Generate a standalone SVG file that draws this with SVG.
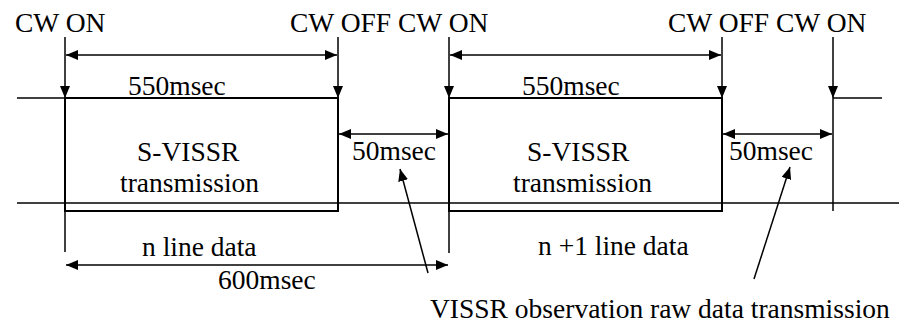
<svg xmlns="http://www.w3.org/2000/svg" width="899" height="324" viewBox="0 0 899 324">
<style>
  .ln { stroke: #000; stroke-width: 1.5; fill: none; }
  .box { stroke: #000; stroke-width: 2; fill: none; }
  text { font-family: 'Liberation Serif', 'Times New Roman', Tinos, 'DejaVu Serif', serif; font-size: 27.5px; fill: #000; }
</style>
<defs>
  <marker id="ah" markerUnits="userSpaceOnUse" markerWidth="13" markerHeight="11" refX="12" refY="5" orient="auto-start-reverse">
    <path d="M0,0 L12,5 L0,10 z" fill="#000"/>
  </marker>
</defs>
<rect width="899" height="324" fill="#fff"/>
<g id="signal">
  <line class="ln" x1="17" y1="98" x2="65" y2="98"/>
  <rect id="box1" class="box" x="65" y="98" width="273" height="113"/>
  <rect id="box2" class="box" x="449" y="98" width="273" height="113"/>
  <line class="ln" x1="833" y1="98" x2="882" y2="98"/>
  <line class="ln" x1="17" y1="203" x2="899" y2="203"/>
</g>
<g id="ticks">
  <line class="ln" x1="65" y1="37" x2="65" y2="98" marker-end="url(#ah)"/>
  <line class="ln" x1="65" y1="98" x2="65" y2="252"/>
  <line class="ln" x1="338" y1="37" x2="338" y2="98" marker-end="url(#ah)"/>
  <line class="ln" x1="449" y1="37" x2="449" y2="98" marker-end="url(#ah)"/>
  <line class="ln" x1="449" y1="98" x2="449" y2="253"/>
  <line class="ln" x1="722" y1="37" x2="722" y2="98" marker-end="url(#ah)"/>
  <line class="ln" x1="833" y1="37" x2="833" y2="98" marker-end="url(#ah)"/>
  <line class="ln" x1="833" y1="98" x2="833" y2="211"/>
</g>
<g id="connectors">
  <line class="ln" x1="66" y1="55" x2="337" y2="55" marker-start="url(#ah)" marker-end="url(#ah)"/>
  <line class="ln" x1="450" y1="55" x2="721" y2="55" marker-start="url(#ah)" marker-end="url(#ah)"/>
  <line class="ln" x1="339" y1="134" x2="448" y2="134" marker-start="url(#ah)" marker-end="url(#ah)"/>
  <line class="ln" x1="723" y1="134" x2="832" y2="134" marker-start="url(#ah)" marker-end="url(#ah)"/>
  <line class="ln" x1="66" y1="265" x2="448" y2="265" marker-start="url(#ah)" marker-end="url(#ah)"/>
  <line class="ln" x1="428" y1="273" x2="400" y2="169" marker-end="url(#ah)"/>
  <line class="ln" x1="754" y1="279" x2="790" y2="167" marker-end="url(#ah)"/>
</g>
<g id="labels">
  <text x="15" y="32">CW ON</text>
  <text x="290" y="32">CW OFF CW ON</text>
  <text x="668" y="32">CW OFF CW ON</text>
  <text x="128" y="95">550msec</text>
  <text x="522" y="95">550msec</text>
  <text x="137" y="161">S-VISSR</text>
  <text x="120" y="192">transmission</text>
  <text x="527" y="161">S-VISSR</text>
  <text x="513" y="192">transmission</text>
  <text x="352" y="160">50msec</text>
  <text x="729" y="160">50msec</text>
  <text x="142" y="256">n line data</text>
  <text x="218" y="289">600msec</text>
  <text x="538" y="255">n +1 line data</text>
  <text x="430" y="318">VISSR observation raw data transmission</text>
</g>
</svg>
